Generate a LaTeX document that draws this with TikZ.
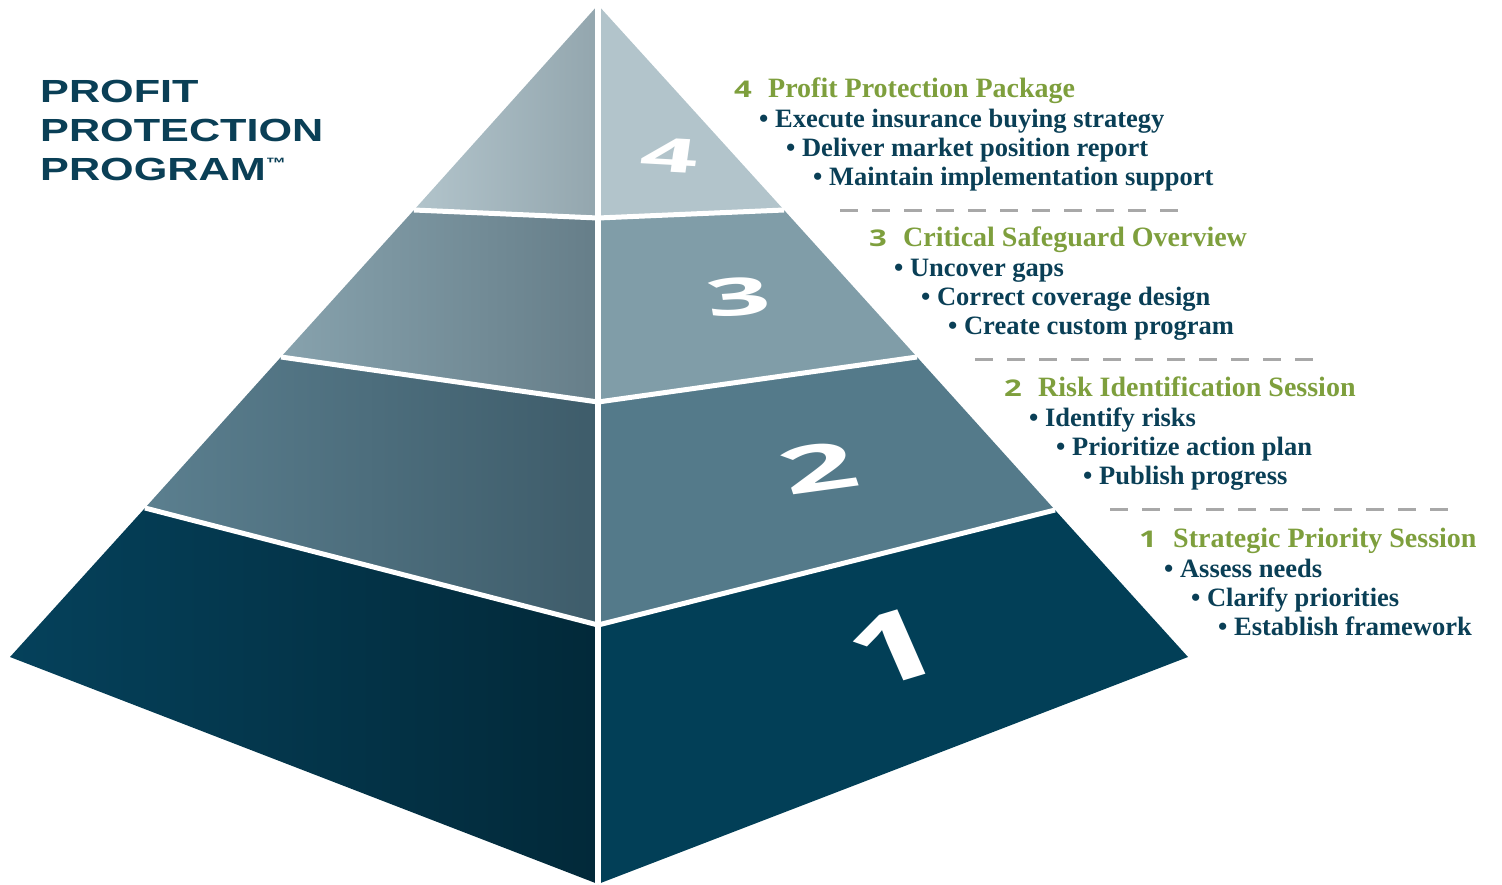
\documentclass[tikz,border=0pt]{standalone}
\usepackage{fontspec}
\usepackage{tikz}

\newfontfamily\widefont[FakeStretch=1.35]{Liberation Sans}
\newfontfamily\numfont[FakeStretch=1.35]{Open Sans}
\newfontfamily\stepfont{Liberation Serif}

\definecolor{navy}{HTML}{0A3F56}
\definecolor{leaf}{HTML}{7E9F3D}
\definecolor{dashgray}{HTML}{A8A8A8}
% faces of the layers (right face, left face light, left face dark)
\definecolor{oneR}{HTML}{023F57}
\definecolor{oneA}{HTML}{05415B}
\definecolor{oneB}{HTML}{022939}
\definecolor{twoR}{HTML}{547A8A}
\definecolor{twoA}{HTML}{5B7F8F}
\definecolor{twoB}{HTML}{3E5C6A}
\definecolor{threeR}{HTML}{809DA8}
\definecolor{threeA}{HTML}{87A2AD}
\definecolor{threeB}{HTML}{667E89}
\definecolor{fourR}{HTML}{B2C4CB}
\definecolor{fourA}{HTML}{B2C4CB}
\definecolor{fourB}{HTML}{93A6AE}

\begin{document}
\begin{tikzpicture}[x=1pt,y=-1pt,
  titletext/.style={anchor=base west, inner sep=0, text=navy, font=\widefont\bfseries\fontsize{32}{32}\selectfont},
  numtext/.style={anchor=base east, inner sep=0, text=leaf, font=\numfont\bfseries\fontsize{23}{23}\selectfont},
  headtext/.style={anchor=base west, inner sep=0, text=leaf, font=\stepfont\bfseries\fontsize{28}{28}\selectfont},
  itemtext/.style={anchor=base west, inner sep=0, text=navy, font=\stepfont\bfseries\fontsize{26.5}{26.5}\selectfont},
  bignum/.style={inner sep=0, text=white},
  gapline/.style={white, line width=5pt},
  sepline/.style={dashgray, line width=3pt, dash pattern=on 18pt off 14pt}]
\useasboundingbox (0,0) rectangle (1502,884);

% corners of the pyramid
\coordinate (A) at (598,5);
\coordinate (B) at (598,884);
\coordinate (L0) at (10,657);
\coordinate (R0) at (1188,657);
\coordinate (L1) at (145,508);
\coordinate (C1) at (598,625);
\coordinate (R1) at (1055,510);
\coordinate (L2) at (281,357);
\coordinate (C2) at (598,402);
\coordinate (R2) at (917,357);
\coordinate (L3) at (414,210);
\coordinate (C3) at (598,218);
\coordinate (R3) at (784,210);

% layer 1
\shade[left color=oneA, right color=oneB] (L0) -- (L1) -- (C1) -- (B) -- cycle;
\fill[oneR] (B) -- (C1) -- (R1) -- (R0) -- cycle;
% layer 2
\shade[left color=twoA, right color=twoB] (L1) -- (L2) -- (C2) -- (C1) -- cycle;
\fill[twoR] (C1) -- (C2) -- (R2) -- (R1) -- cycle;
% layer 3
\shade[left color=threeA, right color=threeB] (L2) -- (L3) -- (C3) -- (C2) -- cycle;
\fill[threeR] (C2) -- (C3) -- (R3) -- (R2) -- cycle;
% layer 4
\shade[left color=fourA, right color=fourB] (L3) -- (A) -- (C3) -- cycle;
\fill[fourR] (C3) -- (A) -- (R3) -- cycle;

% white gaps between the blocks
\draw[gapline] (L1) -- (C1) -- (R1);
\draw[gapline] (L2) -- (C2) -- (R2);
\draw[gapline] (L3) -- (C3) -- (R3);
\draw[gapline, line width=6pt] (A) -- (B);

% numbers on the right faces
\node[bignum, font=\numfont\bfseries\fontsize{47}{47}\selectfont, xscale=1.6, rotate=-5] (big4) at (670,155) {4};
\node[bignum, font=\numfont\bfseries\fontsize{52}{52}\selectfont, xscale=1.6, rotate=6] (big3) at (738,297) {3};
\node[bignum, font=\numfont\bfseries\fontsize{64}{64}\selectfont, xscale=1.55, rotate=12] (big2) at (818,468) {2};
\node[bignum, font=\numfont\bfseries\fontsize{96}{96}\selectfont, xscale=1.2, rotate=20] (big1) at (893,648) {1};

% title
\node[titletext] (title1) at (40,102) {PROFIT};
\node[titletext] (title2) at (40,141) {PROTECTION};
\node[titletext] (title3) at (40,180) {PROGRAM\raisebox{12pt}{\fontsize{15}{15}\selectfont ™}};

% steps
\foreach \k/\x/\y/\head/\one/\two/\three in {
  4/759/97/Profit Protection Package/Execute insurance buying strategy/Deliver market position report/Maintain implementation support,
  3/894/246/Critical Safeguard Overview/Uncover gaps/Correct coverage design/Create custom program,
  2/1029/396/Risk Identification Session/Identify risks/Prioritize action plan/Publish progress,
  1/1164/547/Strategic Priority Session/Assess needs/Clarify priorities/Establish framework}
{
  \node[numtext] (num\k) at (\x-7,\y) {\k};
  \node[headtext] (head\k) at (\x+9,\y) {\head};
  \node[itemtext] (item\k-1) at (\x,\y+30) {\textbullet\ \one};
  \node[itemtext] (item\k-2) at (\x+27,\y+59) {\textbullet\ \two};
  \node[itemtext] (item\k-3) at (\x+54,\y+88) {\textbullet\ \three};
  \ifnum\k>1
    \draw[sepline] (\x+81,\y+113) -- (\x+421,\y+113);
  \fi
}
\end{tikzpicture}
\end{document}
